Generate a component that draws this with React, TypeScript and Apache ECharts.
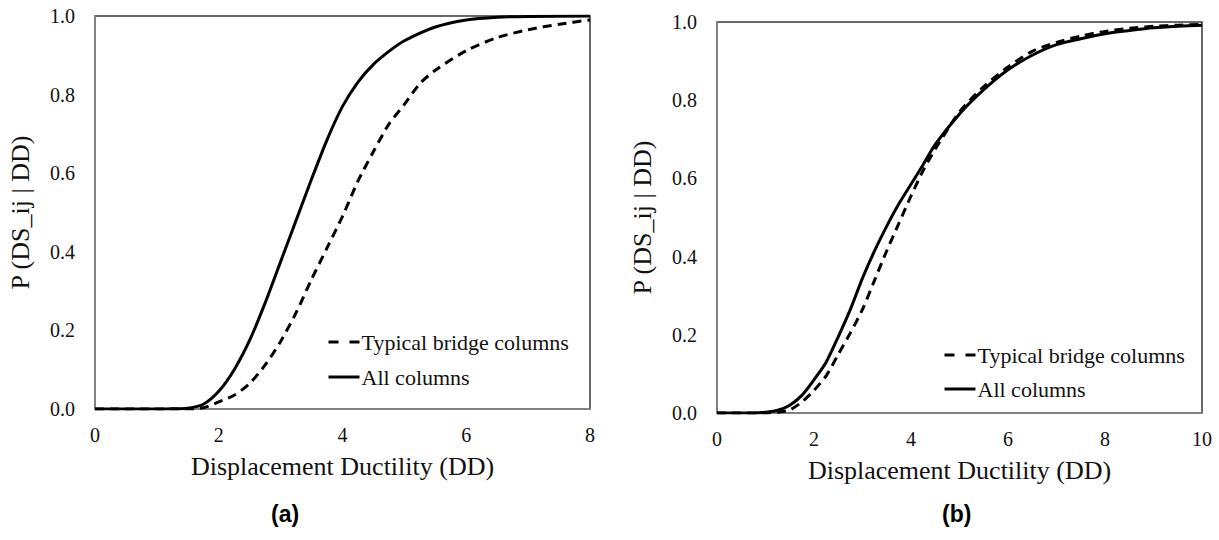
import React, { useEffect, useRef } from "react";
import * as echarts from "echarts";

// Fragility curves: probability of reaching the damage state vs displacement ductility
const NAME_TYPICAL = "Typical bridge columns";
const NAME_ALL = "All columns";

// Panel (a)
const ddA_typical = [0, 1.0, 1.5, 1.75, 2.0, 2.25, 2.5, 2.75, 3.0, 3.25, 3.5, 3.75, 4.0, 4.25, 4.5, 4.75, 5.0, 5.25, 5.5, 6.0, 6.5, 7.0, 7.5, 8.0];
const pA_typical = [0, 0, 0, 0.003, 0.018, 0.035, 0.065, 0.112, 0.172, 0.245, 0.33, 0.41, 0.49, 0.58, 0.655, 0.725, 0.775, 0.828, 0.862, 0.912, 0.945, 0.965, 0.979, 0.99];
const ddA_all = [0, 1.0, 1.25, 1.5, 1.75, 2.0, 2.25, 2.5, 2.75, 3.0, 3.25, 3.5, 3.75, 4.0, 4.25, 4.5, 4.75, 5.0, 5.5, 6.0, 6.5, 7.0, 8.0];
const pA_all = [0, 0, 0.0005, 0.002, 0.012, 0.045, 0.1, 0.175, 0.27, 0.375, 0.48, 0.585, 0.685, 0.77, 0.832, 0.877, 0.91, 0.937, 0.972, 0.99, 0.997, 0.999, 1.0];

// Panel (b)
const ddB_typical = [0, 1.0, 1.25, 1.5, 1.75, 2.0, 2.25, 2.5, 2.75, 3.0, 3.25, 3.5, 3.75, 4.0, 4.25, 4.5, 5.0, 5.5, 6.0, 6.5, 7.0, 7.5, 8.0, 8.5, 9.0, 9.5, 10];
const pB_typical = [0, 0, 0.002, 0.008, 0.028, 0.058, 0.095, 0.15, 0.205, 0.265, 0.34, 0.415, 0.485, 0.555, 0.62, 0.675, 0.77, 0.835, 0.885, 0.925, 0.948, 0.964, 0.976, 0.984, 0.989, 0.992, 0.994];
const ddB_all = [0, 0.75, 1.0, 1.25, 1.5, 1.75, 2.0, 2.25, 2.5, 2.75, 3.0, 3.25, 3.5, 3.75, 4.0, 4.25, 4.5, 5.0, 5.5, 6.0, 6.5, 7.0, 7.5, 8.0, 8.5, 9.0, 9.5, 10];
const pB_all = [0, 0, 0.002, 0.007, 0.02, 0.045, 0.085, 0.13, 0.195, 0.265, 0.345, 0.415, 0.478, 0.535, 0.585, 0.635, 0.687, 0.765, 0.827, 0.878, 0.915, 0.942, 0.957, 0.97, 0.978, 0.985, 0.989, 0.992];

const xMaxA = 8;
const xMaxB = 10;
const xTitle = "Displacement Ductility (DD)";
const yTitle = "P (DS_ij | DD)";
const panelLabels = ["(a)", "(b)"];

const SERIF = "Liberation Serif";
const SANS = "Liberation Sans";

const pairs = (xs: number[], ys: number[]) => xs.map((x, i) => [x, ys[i]]);

export default function App() {
  const ref = useRef<HTMLDivElement>(null);

  useEffect(() => {
    if (!ref.current) return;
    const chart = echarts.init(ref.current, null, { renderer: "svg" });

    const xAxisBase = (gridIndex: number, max: number) => ({
      type: "value" as const,
      gridIndex,
      min: 0,
      max,
      interval: 2,
      name: xTitle,
      nameLocation: "middle" as const,
      nameGap: 44,
      nameTextStyle: { fontFamily: SERIF, fontSize: 26, color: "#111" },
      axisLine: { show: true, lineStyle: { color: "#8a8a8a", width: 1.5 } },
      axisTick: { show: false },
      splitLine: { show: false },
      axisLabel: { fontFamily: SERIF, fontSize: 20, color: "#111", margin: 16 },
    });

    const yAxisBase = (gridIndex: number) => ({
      type: "value" as const,
      gridIndex,
      min: 0,
      max: 1,
      interval: 0.2,
      name: yTitle,
      nameLocation: "middle" as const,
      nameGap: 62,
      nameTextStyle: { fontFamily: SERIF, fontSize: 26, color: "#111" },
      axisLine: { show: true, lineStyle: { color: "#8a8a8a", width: 1.5 } },
      axisTick: { show: false },
      splitLine: { show: false },
      axisLabel: {
        fontFamily: SERIF,
        fontSize: 20,
        color: "#111",
        margin: 20,
        formatter: (v: number) => v.toFixed(1),
      },
    });

    const lineSeries = (name: string, data: number[][], idx: number, dashed: boolean) => ({
      type: "line" as const,
      name,
      xAxisIndex: idx,
      yAxisIndex: idx,
      data,
      smooth: 0.25,
      symbol: "none",
      showSymbol: false,
      lineStyle: {
        color: "#000",
        width: 3,
        type: dashed ? [9, 6] : "solid",
      },
      itemStyle: { color: "#000" },
      z: dashed ? 3 : 2,
    });

    const legendBase = (left: number, top: number, gap: number) => ({
      orient: "vertical" as const,
      left,
      top,
      padding: 0,
      data: [
        { name: NAME_TYPICAL, lineStyle: { type: [10, 11], width: 3 } },
        { name: NAME_ALL, lineStyle: { width: 3 } },
      ],
      itemWidth: 31,
      itemHeight: 14,
      itemGap: gap,
      selectedMode: false,
      itemStyle: { opacity: 0 },
      textStyle: { fontFamily: SERIF, fontSize: 22, color: "#111", padding: [0, 0, 0, -3] },
    });

    chart.setOption({
      animation: false,
      backgroundColor: "#fff",
      grid: [
        { left: 95, top: 16, width: 495, height: 393, show: true, borderColor: "#3a3a3a", borderWidth: 1.5, backgroundColor: "transparent" },
        { left: 717, top: 22, width: 485, height: 391, show: true, borderColor: "#3a3a3a", borderWidth: 1.5, backgroundColor: "transparent" },
      ],
      xAxis: [xAxisBase(0, xMaxA), xAxisBase(1, xMaxB)],
      yAxis: [yAxisBase(0), yAxisBase(1)],
      legend: [legendBase(327, 331, 13), legendBase(943, 344, 12)],
      series: [
        lineSeries(NAME_ALL, pairs(ddA_all, pA_all), 0, false),
        lineSeries(NAME_TYPICAL, pairs(ddA_typical, pA_typical), 0, true),
        lineSeries(NAME_ALL, pairs(ddB_all, pB_all), 1, false),
        lineSeries(NAME_TYPICAL, pairs(ddB_typical, pB_typical), 1, true),
      ],
      graphic: [
        {
          type: "text",
          left: 271,
          top: 502,
          style: { text: panelLabels[0], font: `bold 23px ${SANS}`, fill: "#000" },
        },
        {
          type: "text",
          left: 942,
          top: 502,
          style: { text: panelLabels[1], font: `bold 23px ${SANS}`, fill: "#000" },
        },
      ],
    });

    return () => chart.dispose();
  }, []);

  return (
    <div
      ref={ref}
      style={{ position: "absolute", left: 0, top: 0, width: 1219, height: 540 }}
    />
  );
}
